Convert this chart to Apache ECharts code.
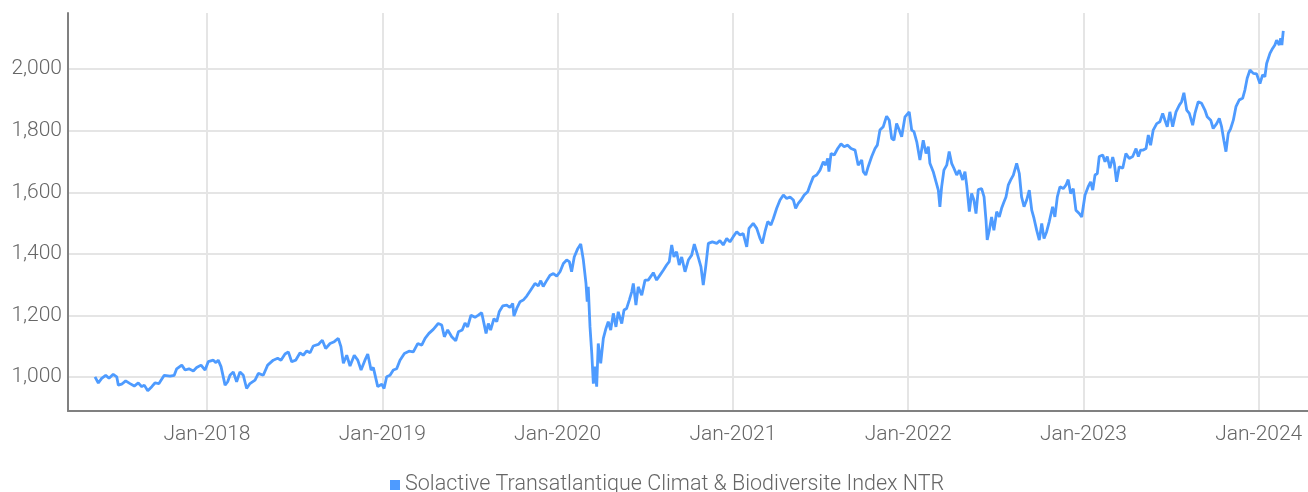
<!DOCTYPE html>
<html>
<head>
<meta charset="utf-8">
<script src="https://cdn.jsdelivr.net/npm/echarts@6/dist/echarts.min.js"></script>
<style>
  html, body { margin: 0; padding: 0; background: #fff; }
  #chart { width: 1308px; height: 492px; }
</style>
</head>
<body>
<div id="chart"></div>
<script>
// time as decimal years
const yearFrac = [
  2017.361, 2017.380, 2017.399, 2017.422, 2017.441, 2017.465, 2017.485, 2017.494, 2017.513, 2017.536,
  2017.561, 2017.585, 2017.608, 2017.628, 2017.642, 2017.662, 2017.685, 2017.703, 2017.726, 2017.756,
  2017.789, 2017.813, 2017.827, 2017.856, 2017.875, 2017.897, 2017.922, 2017.941, 2017.966, 2017.989,
  2018.007, 2018.036, 2018.051, 2018.064, 2018.080, 2018.103, 2018.118, 2018.131, 2018.150, 2018.169,
  2018.188, 2018.207, 2018.226, 2018.245, 2018.274, 2018.293, 2018.321, 2018.346, 2018.378, 2018.403,
  2018.422, 2018.445, 2018.464, 2018.483, 2018.506, 2018.531, 2018.549, 2018.569, 2018.588, 2018.606,
  2018.635, 2018.658, 2018.677, 2018.702, 2018.726, 2018.749, 2018.764, 2018.778, 2018.797, 2018.816,
  2018.840, 2018.860, 2018.879, 2018.901, 2018.917, 2018.936, 2018.949, 2018.974, 2018.997, 2019.010,
  2019.025, 2019.044, 2019.063, 2019.082, 2019.101, 2019.126, 2019.152, 2019.177, 2019.202, 2019.225,
  2019.244, 2019.266, 2019.291, 2019.319, 2019.339, 2019.354, 2019.373, 2019.396, 2019.419, 2019.434,
  2019.456, 2019.472, 2019.487, 2019.506, 2019.529, 2019.548, 2019.567, 2019.592, 2019.605, 2019.618,
  2019.637, 2019.653, 2019.667, 2019.687, 2019.710, 2019.728, 2019.744, 2019.751, 2019.767, 2019.786,
  2019.804, 2019.824, 2019.847, 2019.871, 2019.890, 2019.904, 2019.918, 2019.934, 2019.957, 2019.976,
  2019.995, 2020.014, 2020.033, 2020.052, 2020.067, 2020.080, 2020.095, 2020.115, 2020.132, 2020.147,
  2020.162, 2020.169, 2020.175, 2020.185, 2020.195, 2020.204, 2020.213, 2020.223, 2020.232, 2020.246,
  2020.261, 2020.276, 2020.289, 2020.303, 2020.318, 2020.333, 2020.346, 2020.366, 2020.379, 2020.394,
  2020.409, 2020.423, 2020.432, 2020.447, 2020.460, 2020.480, 2020.499, 2020.517, 2020.537, 2020.546,
  2020.565, 2020.584, 2020.603, 2020.622, 2020.637, 2020.651, 2020.664, 2020.679, 2020.694, 2020.708,
  2020.727, 2020.746, 2020.765, 2020.780, 2020.799, 2020.818, 2020.831, 2020.845, 2020.860, 2020.883,
  2020.908, 2020.926, 2020.945, 2020.965, 2020.983, 2021.002, 2021.022, 2021.041, 2021.059, 2021.079,
  2021.092, 2021.116, 2021.136, 2021.155, 2021.168, 2021.183, 2021.199, 2021.217, 2021.231, 2021.250,
  2021.269, 2021.288, 2021.307, 2021.326, 2021.345, 2021.358, 2021.373, 2021.389, 2021.407, 2021.427,
  2021.440, 2021.459, 2021.478, 2021.497, 2021.516, 2021.529, 2021.541, 2021.548, 2021.560, 2021.578,
  2021.598, 2021.617, 2021.635, 2021.655, 2021.674, 2021.697, 2021.715, 2021.735, 2021.744, 2021.758,
  2021.772, 2021.792, 2021.811, 2021.824, 2021.839, 2021.858, 2021.877, 2021.892, 2021.906, 2021.919,
  2021.934, 2021.949, 2021.963, 2021.982, 2022.006, 2022.020, 2022.033, 2022.049, 2022.067, 2022.086,
  2022.102, 2022.115, 2022.124, 2022.143, 2022.159, 2022.172, 2022.181, 2022.191, 2022.204, 2022.220,
  2022.234, 2022.248, 2022.261, 2022.277, 2022.292, 2022.311, 2022.324, 2022.334, 2022.349, 2022.362,
  2022.375, 2022.387, 2022.400, 2022.419, 2022.433, 2022.444, 2022.451, 2022.463, 2022.476, 2022.489,
  2022.505, 2022.520, 2022.533, 2022.547, 2022.558, 2022.571, 2022.585, 2022.600, 2022.619, 2022.634,
  2022.647, 2022.661, 2022.676, 2022.691, 2022.705, 2022.718, 2022.733, 2022.748, 2022.762, 2022.775,
  2022.790, 2022.805, 2022.824, 2022.837, 2022.851, 2022.866, 2022.885, 2022.900, 2022.913, 2022.927,
  2022.942, 2022.957, 2022.976, 2022.990, 2023.009, 2023.027, 2023.041, 2023.053, 2023.066, 2023.079,
  2023.090, 2023.110, 2023.123, 2023.136, 2023.151, 2023.167, 2023.176, 2023.189, 2023.204, 2023.224,
  2023.242, 2023.261, 2023.281, 2023.300, 2023.313, 2023.326, 2023.341, 2023.357, 2023.370, 2023.383,
  2023.398, 2023.418, 2023.436, 2023.452, 2023.465, 2023.478, 2023.493, 2023.509, 2023.528, 2023.547,
  2023.560, 2023.573, 2023.589, 2023.604, 2023.623, 2023.636, 2023.655, 2023.674, 2023.693, 2023.706,
  2023.726, 2023.740, 2023.760, 2023.775, 2023.788, 2023.801, 2023.813, 2023.826, 2023.840, 2023.855,
  2023.870, 2023.889, 2023.908, 2023.921, 2023.934, 2023.950, 2023.969, 2023.988, 2024.007, 2024.022,
  2024.035, 2024.045, 2024.064, 2024.079, 2024.092, 2024.102, 2024.117, 2024.125, 2024.132, 2024.140
]

const indexValues = [
  1001, 981, 996, 1006, 996, 1009, 1001, 974, 977, 988,
  979, 971, 981, 969, 974, 956, 969, 981, 979, 1006,
  1003, 1006, 1027, 1039, 1023, 1027, 1020, 1031, 1039, 1023,
  1050, 1055, 1047, 1055, 1034, 974, 985, 1006, 1017, 985,
  1017, 1006, 963, 979, 990, 1012, 1006, 1039, 1055, 1061,
  1055, 1075, 1082, 1050, 1055, 1079, 1071, 1085, 1079, 1101,
  1106, 1120, 1093, 1109, 1115, 1126, 1099, 1045, 1071, 1036,
  1071, 1055, 1023, 1055, 1075, 1023, 1031, 969, 977, 963,
  1001, 1006, 1023, 1027, 1055, 1077, 1084, 1082, 1109, 1104,
  1126, 1142, 1155, 1174, 1169, 1131, 1153, 1131, 1118, 1147,
  1153, 1176, 1163, 1201, 1194, 1201, 1209, 1142, 1174, 1153,
  1190, 1180, 1212, 1231, 1234, 1226, 1239, 1198, 1223, 1245,
  1250, 1263, 1283, 1304, 1296, 1313, 1294, 1310, 1331, 1336,
  1328, 1342, 1369, 1380, 1375, 1342, 1390, 1417, 1432, 1380,
  1304, 1245, 1293, 1163, 1077, 979, 1034, 969, 1109, 1045,
  1126, 1158, 1180, 1153, 1207, 1163, 1212, 1174, 1218, 1223,
  1250, 1277, 1304, 1234, 1293, 1266, 1315, 1315, 1331, 1339,
  1315, 1331, 1347, 1364, 1375, 1429, 1390, 1407, 1364, 1390,
  1342, 1380, 1396, 1432, 1396, 1358, 1299, 1358, 1434, 1439,
  1434, 1443, 1429, 1450, 1439, 1456, 1472, 1461, 1466, 1423,
  1483, 1499, 1483, 1450, 1434, 1472, 1505, 1494, 1515, 1548,
  1575, 1591, 1580, 1585, 1575, 1548, 1564, 1575, 1591, 1602,
  1623, 1650, 1656, 1672, 1699, 1688, 1710, 1667, 1726, 1721,
  1742, 1757, 1748, 1753, 1742, 1737, 1688, 1705, 1667, 1656,
  1683, 1716, 1742, 1753, 1802, 1813, 1847, 1834, 1775, 1769,
  1823, 1802, 1780, 1845, 1861, 1802, 1797, 1764, 1705, 1769,
  1726, 1748, 1694, 1667, 1634, 1607, 1553, 1618, 1672, 1688,
  1732, 1694, 1678, 1656, 1672, 1640, 1667, 1623, 1537, 1596,
  1575, 1531, 1609, 1612, 1585, 1510, 1445, 1477, 1520, 1477,
  1537, 1520, 1548, 1569, 1585, 1623, 1640, 1656, 1694, 1661,
  1585, 1553, 1575, 1607, 1542, 1515, 1477, 1445, 1499, 1450,
  1472, 1505, 1553, 1520, 1585, 1618, 1612, 1623, 1641, 1596,
  1612, 1542, 1531, 1520, 1591, 1618, 1634, 1607, 1656, 1661,
  1716, 1721, 1699, 1716, 1678, 1714, 1694, 1634, 1683, 1678,
  1726, 1710, 1716, 1742, 1716, 1737, 1737, 1742, 1786, 1753,
  1802, 1823, 1829, 1856, 1834, 1813, 1861, 1813, 1861, 1883,
  1894, 1923, 1867, 1856, 1818, 1856, 1894, 1889, 1867, 1845,
  1834, 1807, 1823, 1840, 1813, 1769, 1732, 1791, 1807, 1834,
  1878, 1900, 1905, 1932, 1970, 1997, 1986, 1984, 1953, 1981,
  1975, 2018, 2051, 2067, 2078, 2094, 2078, 2100, 2078, 2124
]

const seriesName = 'Solactive Transatlantique Climat & Biodiversite Index NTR'
const fontName = 'Roboto'

const lineData = yearFrac.map((t, i) => [t, indexValues[i]])

const chart = echarts.init(document.getElementById('chart'))
chart.setOption({
  animation: false,
  grid: {
    left: 68,
    right: -1,
    top: 13,
    bottom: 81
  },
  legend: {
    data: [seriesName],
    left: 385,
    top: 469,
    icon: 'rect',
    itemWidth: 10,
    itemHeight: 10,
    itemGap: 6,
    textStyle: {
      color: '#666',
      fontSize: 21.5,
      fontFamily: fontName,
      fontWeight: 300
    }
  },
  xAxis: {
    type: 'value',
    min: 2017.207,
    max: 2024.281,
    splitNumber: 7,
    axisLine: { show: true, onZero: false, lineStyle: { color: '#808080', width: 2 } },
    axisTick: { show: false },
    axisLabel: {
      color: '#666',
      fontSize: 21,
      fontFamily: fontName,
      fontWeight: 300,
      margin: 13,
      showMinLabel: false,
      showMaxLabel: false,
      formatter: function (v) {
        return Number.isInteger(v) ? 'Jan-' + v : ''
      }
    },
    splitLine: {
      show: true,
      showMinLine: false,
      showMaxLine: false,
      lineStyle: { color: '#e5e5e5', width: 2 }
    }
  },
  yAxis: {
    type: 'value',
    min: 890,
    max: 2182,
    splitNumber: 6,
    axisLine: { show: true, lineStyle: { color: '#808080', width: 2 } },
    axisTick: { show: false },
    axisLabel: {
      color: '#666',
      fontSize: 21,
      fontFamily: fontName,
      fontWeight: 300,
      margin: 6,
      showMinLabel: false,
      showMaxLabel: false,
      formatter: function (v) {
        return v.toLocaleString('en-US')
      }
    },
    splitLine: {
      show: true,
      showMinLine: false,
      showMaxLine: false,
      lineStyle: { color: '#e5e5e5', width: 2 }
    }
  },
  series: [
    {
      name: seriesName,
      type: 'line',
      data: lineData,
      showSymbol: false,
      symbol: 'none',
      lineStyle: { color: '#4e9bff', width: 2.8 },
      itemStyle: { color: '#4e9bff' }
    }
  ]
})
</script>
</body>
</html>
